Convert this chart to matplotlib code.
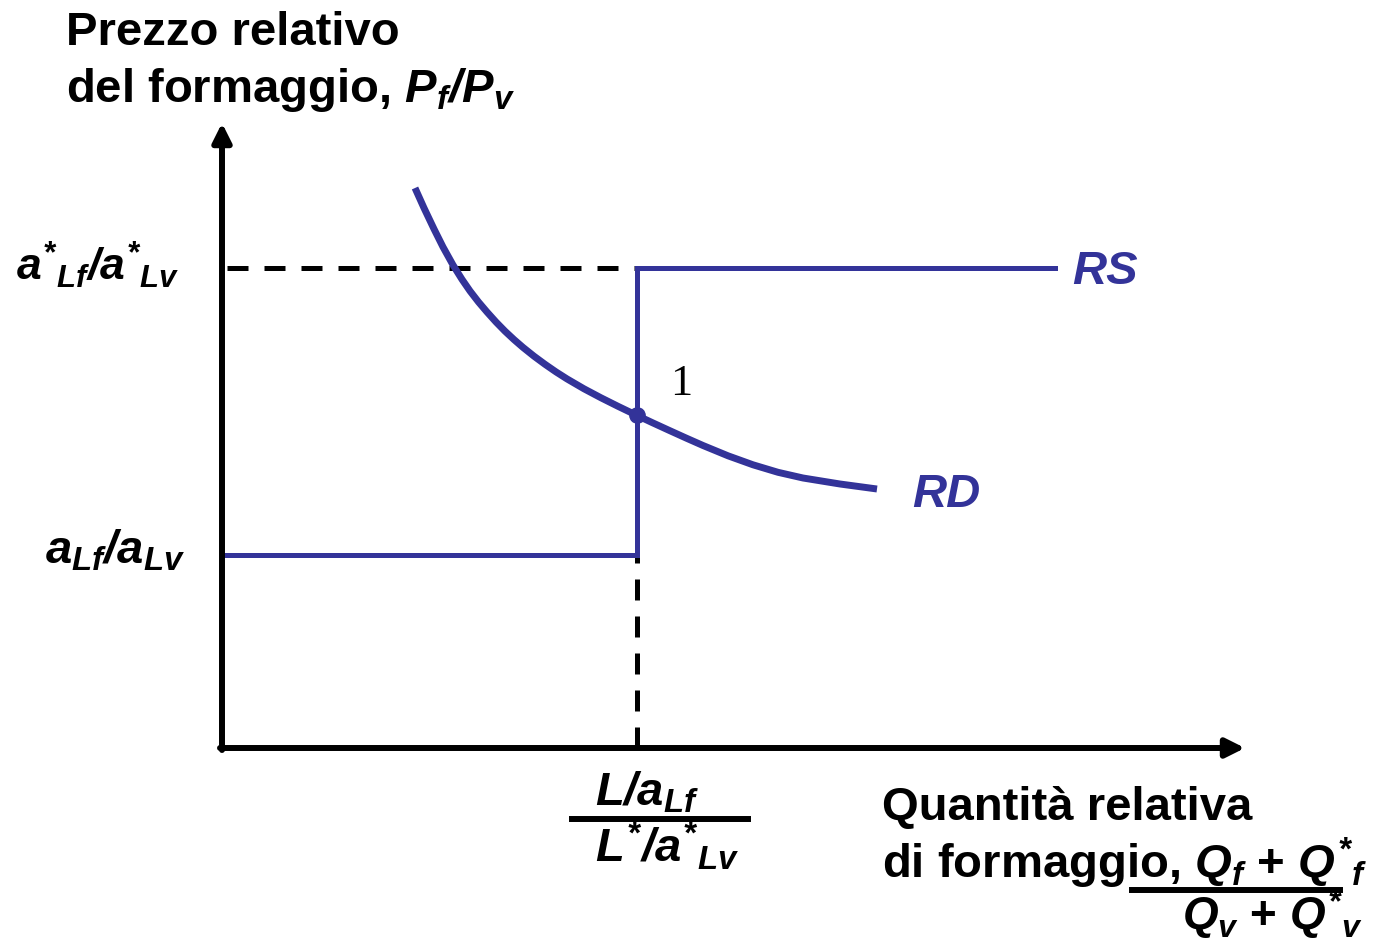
import matplotlib.pyplot as plt

# --- Data (price in y, quantity in x; arbitrary units) ---
price_low = 1.93      # a_Lf / a_Lv
price_high = 4.80     # a*_Lf / a*_Lv
q_trade = 4.15        # (L/a_Lf) / (L*/a*_Lv)
rs_end = 8.33

rd_x = [1.93, 2.02, 2.12, 2.21, 2.31, 2.40, 2.48, 2.565, 2.65, 2.74, 2.83,
        2.92, 3.01, 3.12, 3.23, 3.34, 3.45, 3.62, 3.79, 3.96, 4.13, 4.30,
        4.47, 4.64, 4.81, 5.06, 5.31, 5.56, 5.81, 6.18, 6.55]
rd_y = [5.60, 5.40, 5.19, 5.01, 4.83, 4.686, 4.57, 4.46, 4.36, 4.26, 4.168,
        4.084, 4.006, 3.918, 3.837, 3.761, 3.691, 3.592, 3.502, 3.417, 3.335,
        3.255, 3.177, 3.10, 3.025, 2.922, 2.832, 2.757, 2.70, 2.64, 2.59]

eq_x, eq_y = 4.15, 3.33

BLUE = "#333399"
W, H = 1373, 947
FS = 34

plt.rcParams["font.family"] = ["Liberation Sans", "DejaVu Sans"]
plt.rcParams["mathtext.fontset"] = "custom"
plt.rcParams["mathtext.rm"] = "Liberation Sans:italic:bold"
plt.rcParams["mathtext.bf"] = "Liberation Sans:italic:bold"
plt.rcParams["mathtext.it"] = "Liberation Sans:italic:bold"

fig = plt.figure(figsize=(W / 100, H / 100), dpi=100)
ax = fig.add_axes([222 / W, (H - 748) / H, 1023 / W, 623 / H])
ax.set_xlim(0, 10.23)
ax.set_ylim(0, 6.23)
ax.axis("off")

# axes with arrows
arrow = dict(arrowstyle="-|>", lw=4.3, color="black", mutation_scale=28,
             shrinkA=0, shrinkB=0)
ax.annotate("", xy=(0, 6.25), xytext=(0, -0.02), arrowprops=arrow,
            annotation_clip=False)
ax.annotate("", xy=(10.23, 0), xytext=(-0.02, 0), arrowprops=arrow,
            annotation_clip=False)

# dashed guide lines
dash = dict(color="black", lw=3.6, dashes=(4.2, 3.2))
ax.plot([0.05, q_trade], [price_high, price_high], **dash)
ax.plot([q_trade, q_trade], [0, price_low], **dash)

# RS curve
ax.plot([0, q_trade, q_trade, rs_end],
        [price_low, price_low, price_high, price_high],
        color=BLUE, lw=3.6, solid_joinstyle="miter")

# RD curve
ax.plot(rd_x, rd_y, color=BLUE, lw=5, solid_capstyle="butt",
        solid_joinstyle="round")
ax.plot([eq_x], [eq_y], "o", color=BLUE, ms=11)

# curve labels
ax.text(8.50, price_high - 0.16, "RS", color=BLUE, fontsize=FS,
        fontweight="bold", fontstyle="italic", va="baseline")
ax.text(6.90, 2.41, "RD", color=BLUE, fontsize=FS,
        fontweight="bold", fontstyle="italic", va="baseline")
ax.text(4.59, 3.53, "1", fontsize=32, family="Liberation Serif",
        ha="center", va="baseline")

# y-axis value labels
ax.text(-0.42, price_high - 0.12, r"$a^{*}{}_{Lf}/a^{*}{}_{Lv}$", fontsize=32,
        ha="right", va="baseline", clip_on=False)
ax.text(-0.37, price_low - 0.08, r"$a_{Lf}/a_{Lv}$", fontsize=FS,
        ha="right", va="baseline", clip_on=False)

# x-axis value label (fraction)
ax.text(3.73, -0.57, r"$L/a_{Lf}$", fontsize=FS, ha="left",
        va="baseline", clip_on=False)
ax.plot([3.50, 5.26], [-0.71, -0.71], color="black", lw=4.3, clip_on=False)
ax.text(3.73, -1.14, r"$L^{*}/a^{*}{}_{Lv}$", fontsize=FS, ha="left",
        va="baseline", clip_on=False)

# axis titles
fig.text(66 / W, 1 - 45 / H, "Prezzo relativo", fontsize=FS,
         fontweight="bold", va="baseline")
fig.text(66 / W, 1 - 102 / H, r"del formaggio, $P_f/P_v$", fontsize=FS,
         fontweight="bold", va="baseline")

fig.text(882 / W, 1 - 820 / H, "Quantità relativa", fontsize=FS,
         fontweight="bold", va="baseline")
fig.text(882 / W, 1 - 878 / H, r"di formaggio, $Q_f$ + $Q^{*}{}_f$",
         fontsize=FS, fontweight="bold", va="baseline")
fig.add_artist(plt.Line2D([1132 / W, 1340 / W], [1 - 890 / H, 1 - 890 / H],
                          color="black", lw=4.3))
fig.text(1182 / W, 1 - 930 / H, r"$Q_v$ + $Q^{*}{}_v$", fontsize=33,
         fontweight="bold", va="baseline")

fig.savefig("out.png", dpi=100)
